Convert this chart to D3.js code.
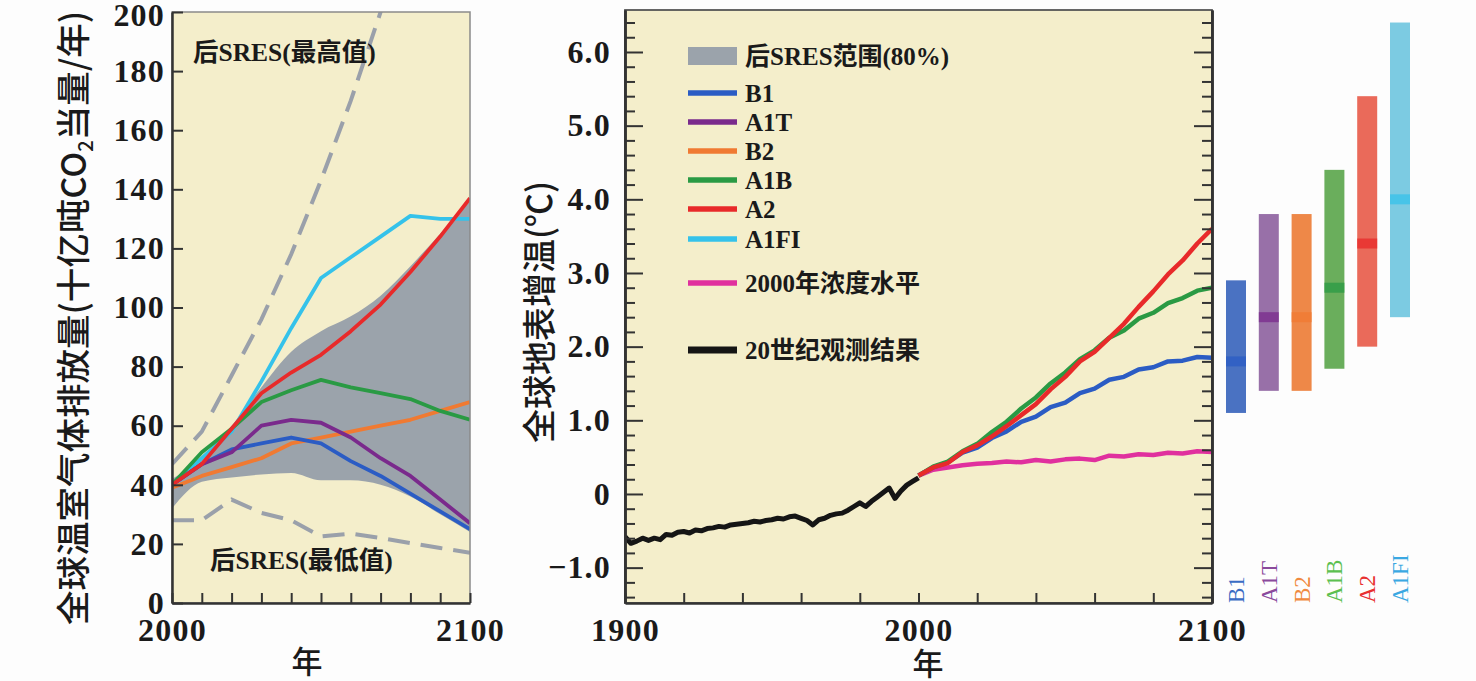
<!DOCTYPE html>
<html><head><meta charset="utf-8">
<script src="https://cdn.jsdelivr.net/npm/d3@7"></script>
<style>
body{margin:0;background:#fdfdfd;}
svg text{font-family:"Liberation Serif","Noto Sans CJK SC",serif;fill:#1a1a1a;}
.cjk{font-family:"Noto Sans CJK SC",sans-serif !important;font-weight:500;}
</style></head><body>
<script>
// ---- left panel: emissions ----
const emisYears = [2000,2010,2020,2030,2040,2050,2060,2070,2080,2090,2100];
const b1Emis   = [40,47,52,54,56,54,48,43,37,31,25];
const a1tEmis  = [40,47,51,60,62,61,56,49,43,35,27];
const b2Emis   = [39,43,46,49,54,56,58,60,62,65,68];
const a1bEmis  = [40,51,59,68,72,75.5,73,71,69,65,62];
const a2Emis   = [40,47,59,71,78,84,92,101,112,124,137];
const a1fiEmis = [40,49,58,75,93,110,117,124,131,130,130];
const bandUpper = [42,49,60,73,85,92,97,104,114,125,136];
const bandLower = [32,41,42.5,43.5,44,41.5,41.5,40,36,30,24];
const maxYears = [2000,2010,2020,2030,2040,2050,2060,2070,2080];
const maxEmis  = [47,58,77,96,118,143,170,200,235];
const minEmis  = [28,28,35,30.5,28,22.5,23.5,22,20.3,18.6,17];

// ---- right panel: temperature ----
const obsYears = d3.range(1900,2001,2);
const obsTemp = [-0.58,-0.67,-0.64,-0.60,-0.63,-0.60,-0.62,-0.55,-0.56,-0.52,
  -0.51,-0.53,-0.49,-0.50,-0.47,-0.46,-0.44,-0.45,-0.42,-0.41,
  -0.40,-0.39,-0.37,-0.38,-0.36,-0.35,-0.33,-0.34,-0.31,-0.30,
  -0.33,-0.36,-0.42,-0.35,-0.33,-0.29,-0.27,-0.26,-0.22,-0.17,
  -0.12,-0.17,-0.10,-0.04,0.02,0.08,-0.06,0.04,0.12,0.17,0.22];
const projYears = d3.range(2000,2101,5);
const a2Temp  = [0.25,0.36,0.42,0.57,0.66,0.78,0.92,1.07,1.22,1.42,1.59,1.80,1.93,2.12,2.31,2.54,2.75,2.98,3.17,3.40,3.60];
const a1bTemp = [0.25,0.37,0.44,0.58,0.68,0.84,0.98,1.16,1.31,1.50,1.65,1.83,1.95,2.12,2.22,2.38,2.46,2.59,2.66,2.76,2.80];
const b1Temp  = [0.25,0.36,0.43,0.56,0.63,0.76,0.85,0.98,1.05,1.18,1.24,1.37,1.43,1.55,1.59,1.69,1.72,1.80,1.81,1.86,1.85];
const constTemp = [0.25,0.33,0.36,0.39,0.41,0.42,0.44,0.43,0.46,0.44,0.47,0.48,0.46,0.52,0.51,0.54,0.53,0.56,0.55,0.58,0.57];

// ---- bars at 2100 ----
const scenarios = ["B1","A1T","B2","A1B","A2","A1FI"];
const rangeLow  = [1.1,1.4,1.4,1.7,2.0,2.4];
const rangeHigh = [2.9,3.8,3.8,4.4,5.4,6.4];
const bestEst   = [1.8,2.4,2.4,2.8,3.4,4.0];

const col = {B1:"#2b5cc4",A1T:"#7a2a8c",B2:"#f07a32",A1B:"#2a9a44",A2:"#e82a2a",A1FI:"#35c2ea",
  c2000:"#e0309e",obs:"#151515",band:"#9ba3ab",dash:"#9aa0aa"};
const barCol = {B1:"#4a72c2",A1T:"#9870a8",B2:"#ee8848",A1B:"#6aae5c",A2:"#ea6a5a",A1FI:"#7ccbe2"};
const labCol = {B1:"#3a6cc4",A1T:"#8a4a9c",B2:"#f08a40",A1B:"#5cc050",A2:"#e83030",A1FI:"#3aa8e2"};

const svg = d3.select("body").append("svg").attr("width",1476).attr("height",681);
const bg = "#f4eecb";

// ===== left panel =====
const xL = d3.scaleLinear().domain([2000,2100]).range([172,470]);
const yL = d3.scaleLinear().domain([0,200]).range([603,12]);
svg.append("clipPath").attr("id","clipL").append("rect")
  .attr("x",172).attr("y",12).attr("width",298).attr("height",591);
svg.append("rect").attr("x",172).attr("y",12).attr("width",298).attr("height",591).attr("fill",bg);
const gL = svg.append("g").attr("clip-path","url(#clipL)");

const bandL = emisYears.map((y,i)=>({y, lo:bandLower[i], hi:bandUpper[i]}));
gL.append("path").datum(bandL)
  .attr("d", d3.area().x(d=>xL(d.y)).y0(d=>yL(d.lo)).y1(d=>yL(d.hi)).curve(d3.curveMonotoneX))
  .attr("fill",col.band);

const lineL = d3.line().x(d=>xL(d[0])).y(d=>yL(d[1]));
gL.append("path").datum(maxYears.map((y,i)=>[y,maxEmis[i]])).attr("d",lineL)
  .attr("fill","none").attr("stroke",col.dash).attr("stroke-width",4).attr("stroke-dasharray","22,11");
gL.append("path").datum(emisYears.map((y,i)=>[y,minEmis[i]])).attr("d",lineL)
  .attr("fill","none").attr("stroke",col.dash).attr("stroke-width",4).attr("stroke-dasharray","22,11");

const emisSeries = [["A1FI",a1fiEmis],["B2",b2Emis],["B1",b1Emis],["A1T",a1tEmis],["A1B",a1bEmis],["A2",a2Emis]];
emisSeries.forEach(([k,vals])=>{
  gL.append("path").datum(emisYears.map((y,i)=>[y,vals[i]])).attr("d",lineL)
    .attr("fill","none").attr("stroke",col[k]).attr("stroke-width",3.8).attr("stroke-linejoin","round");
});

svg.append("rect").attr("x",172).attr("y",12).attr("width",298).attr("height",591)
  .attr("fill","none").attr("stroke","#8a8a8a").attr("stroke-width",1.5);

const axL = svg.append("g").attr("transform","translate(172,0)")
  .call(d3.axisLeft(yL).tickValues(d3.range(0,201,20)).tickSize(-11).tickSizeOuter(0).tickPadding(7));
axL.selectAll(".tick text").filter(d=>d===200).attr("y",3);
const axLB = svg.append("g").attr("transform","translate(0,603)")
  .call(d3.axisBottom(xL).tickValues(d3.range(2000,2101,10)).tickSize(-10).tickSizeOuter(0).tickPadding(15)
    .tickFormat(d=>(d===2000||d===2100)?d:""));
[axL,axLB].forEach(a=>{
  a.selectAll("path.domain").attr("stroke","#333").attr("stroke-width",2.5);
  a.selectAll(".tick line").attr("stroke","#333").attr("stroke-width",2);
  a.selectAll("text").attr("font-size",32).attr("font-weight","bold").attr("letter-spacing",1.2)
    .style("font-family","'Liberation Serif',serif").attr("fill","#1a1a1a");
});

svg.append("text").attr("x",193).attr("y",61).attr("font-size",25.5).attr("font-weight","bold").text("后SRES(最高值)");
svg.append("text").attr("x",210).attr("y",569).attr("font-size",25.5).attr("font-weight","bold").text("后SRES(最低值)");

const yTitleL = svg.append("text").attr("class","cjk").attr("font-size",34.5)
  .attr("transform","translate(86,318) rotate(-90)").attr("text-anchor","middle");
yTitleL.append("tspan").text("全球温室气体排放量(十亿吨CO");
yTitleL.append("tspan").attr("font-size",20).attr("dy",7).text("2");
yTitleL.append("tspan").attr("dy",-7).text("当量/年)");
svg.append("text").attr("class","cjk").attr("x",307).attr("y",673).attr("font-size",31)
  .attr("text-anchor","middle").text("年");

// ===== right panel =====
const xR = d3.scaleLinear().domain([1900,2100]).range([625,1212]);
const yR = d3.scaleLinear().domain([-1.48,6.57]).range([603,10]);
svg.append("clipPath").attr("id","clipR").append("rect")
  .attr("x",625).attr("y",10).attr("width",587).attr("height",593);
svg.append("rect").attr("x",625).attr("y",10).attr("width",587).attr("height",593).attr("fill",bg);
const gR = svg.append("g").attr("clip-path","url(#clipR)");
const lineR = d3.line().x(d=>xR(d[0])).y(d=>yR(d[1]));

const projSeries = [["c2000",constTemp],["B1",b1Temp],["A1B",a1bTemp],["A2",a2Temp]];
projSeries.forEach(([k,vals])=>{
  gR.append("path").datum(projYears.map((y,i)=>[y,vals[i]])).attr("d",lineR)
    .attr("fill","none").attr("stroke",col[k]).attr("stroke-width",4.5).attr("stroke-linejoin","round");
});
gR.append("path").datum(obsYears.map((y,i)=>[y,obsTemp[i]])).attr("d",lineR)
  .attr("fill","none").attr("stroke",col.obs).attr("stroke-width",5).attr("stroke-linejoin","round");

svg.append("rect").attr("x",625).attr("y",10).attr("width",587).attr("height",593)
  .attr("fill","none").attr("stroke","#555").attr("stroke-width",1.8);

const majorT = d3.range(-1,7,1);
const minorT = d3.range(-14,66,2).map(v=>v/10).filter(v=>Math.abs(v-Math.round(v))>1e-6);
const fmtT = d=>d===0?"0":d3.format(".1f")(d);
const axR = [];
axR.push(svg.append("g").attr("transform","translate(625,0)")
  .call(d3.axisLeft(yR).tickValues(majorT).tickSize(-18).tickSizeOuter(0).tickPadding(14).tickFormat(fmtT)));
axR.push(svg.append("g").attr("transform","translate(625,0)")
  .call(d3.axisLeft(yR).tickValues(minorT).tickSize(-10).tickSizeOuter(0).tickFormat("")));
axR.push(svg.append("g").attr("transform","translate(1212,0)")
  .call(d3.axisRight(yR).tickValues(majorT).tickSize(-18).tickSizeOuter(0).tickFormat("")));
axR.push(svg.append("g").attr("transform","translate(1212,0)")
  .call(d3.axisRight(yR).tickValues(minorT).tickSize(-10).tickSizeOuter(0).tickFormat("")));
axR.push(svg.append("g").attr("transform","translate(0,603)")
  .call(d3.axisBottom(xR).tickValues(d3.range(1900,2101,20)).tickSize(-10).tickSizeOuter(0).tickPadding(15)
    .tickFormat(d=>(d%100===0)?d:"")));
axR.forEach(a=>{
  a.selectAll("path.domain").attr("stroke","#333").attr("stroke-width",2.5);
  a.selectAll(".tick line").attr("stroke","#333").attr("stroke-width",2);
  a.selectAll("text").attr("font-size",32).attr("font-weight","bold").attr("letter-spacing",1.2)
    .style("font-family","'Liberation Serif',serif").attr("fill","#1a1a1a");
});

// legend
const legend = [
  {k:"band",label:"后SRES范围(80%)",y:56},
  {k:"B1",label:"B1",y:93},{k:"A1T",label:"A1T",y:122},{k:"B2",label:"B2",y:151},
  {k:"A1B",label:"A1B",y:180},{k:"A2",label:"A2",y:209},{k:"A1FI",label:"A1FI",y:239},
  {k:"c2000",label:"2000年浓度水平",y:283},{k:"obs",label:"20世纪观测结果",y:350}];
const lg = svg.append("g");
legend.forEach(d=>{
  if(d.k==="band"){
    lg.append("rect").attr("x",688).attr("y",d.y-9).attr("width",49).attr("height",18).attr("fill",col.band);
  } else {
    lg.append("line").attr("x1",688).attr("x2",737).attr("y1",d.y).attr("y2",d.y)
      .attr("stroke",col[d.k]).attr("stroke-width",d.k==="obs"?7:5.5);
  }
  lg.append("text").attr("x",745).attr("y",d.y+9).attr("font-size",25).attr("font-weight","bold").text(d.label);
});

svg.append("text").attr("class","cjk").attr("font-size",34)
  .attr("transform","translate(552,312) rotate(-90)").attr("text-anchor","middle").text("全球地表增温(℃)");
svg.append("text").attr("class","cjk").attr("x",928).attr("y",675).attr("font-size",31)
  .attr("text-anchor","middle").text("年");

// ===== uncertainty bars =====
const xB = d3.scalePoint().domain(scenarios).range([1236,1400]);
const bw = 20;
scenarios.forEach((s,i)=>{
  svg.append("rect").attr("x",xB(s)-bw/2).attr("y",yR(rangeHigh[i])).attr("width",bw)
    .attr("height",yR(rangeLow[i])-yR(rangeHigh[i])).attr("fill",barCol[s]);
  svg.append("rect").attr("x",xB(s)-bw/2).attr("y",yR(bestEst[i])-5).attr("width",bw)
    .attr("height",10).attr("fill",col[s]).attr("opacity",0.75);
  svg.append("text").attr("transform",`translate(${xB(s)+8},603) rotate(-90)`)
    .attr("font-size",23).style("fill",labCol[s]).text(s);
});
</script></body></html>
